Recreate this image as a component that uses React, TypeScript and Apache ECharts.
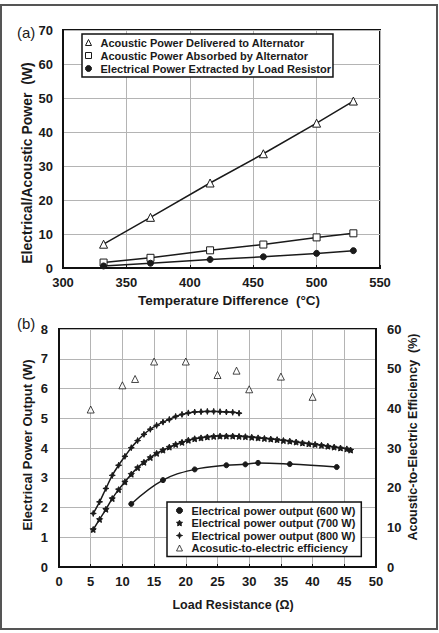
import React, { useEffect, useRef } from "react";
import * as echarts from "echarts";

// Panel (a): power versus temperature difference
const tempDiff = [332, 369, 416, 458, 500, 529];
const acousticDelivered = [7.0, 14.9, 25.0, 33.6, 42.6, 49.1];
const acousticAbsorbed = [1.6, 3.0, 5.2, 6.9, 9.0, 10.2];
const electricalExtracted = [0.6, 1.4, 2.5, 3.3, 4.3, 5.1];

// Panel (b): power output versus load resistance
const load600 = [11.4, 16.4, 21.4, 26.4, 29.4, 31.4, 36.4, 43.8];
const power600 = [2.12, 2.92, 3.28, 3.42, 3.45, 3.5, 3.46, 3.36];

const load700 = [
  5.4, 6.4, 7.4, 8.4, 9.4, 10.4, 11.4, 12.4, 13.4, 14.4, 15.4, 16.4, 17.4, 18.4,
  19.4, 20.4, 21.4, 22.4, 23.4, 24.4, 25.4, 26.4, 27.4, 28.4, 29.4, 30.4, 31.4,
  32.4, 33.4, 34.4, 35.4, 36.4, 37.4, 38.4, 39.4, 40.4, 41.4, 42.4, 43.4, 44.4,
  45.4, 46.0,
];
const power700 = [
  1.26, 1.6, 1.94, 2.3, 2.6, 2.86, 3.12, 3.34, 3.52, 3.68, 3.82, 3.93, 4.03, 4.12,
  4.19, 4.26, 4.31, 4.34, 4.37, 4.39, 4.4, 4.4, 4.4, 4.39, 4.38, 4.36, 4.34, 4.32,
  4.3, 4.28, 4.25, 4.23, 4.2, 4.17, 4.14, 4.12, 4.09, 4.06, 4.03, 4.0, 3.97, 3.93,
];

const load800 = [
  5.4, 6.4, 7.4, 8.4, 9.4, 10.4, 11.4, 12.4, 13.4, 14.4, 15.4, 16.4, 17.4, 18.4,
  19.4, 20.4, 21.4, 22.4, 23.4, 24.4, 25.4, 26.4, 27.4, 28.4,
];
const power800 = [
  1.8, 2.19, 2.64, 3.08, 3.42, 3.72, 4.01, 4.25, 4.46, 4.63, 4.76, 4.87, 4.96, 5.06,
  5.13, 5.18, 5.21, 5.22, 5.23, 5.23, 5.22, 5.21, 5.2, 5.17,
];

const loadEff = [5, 10, 12, 15, 20, 25, 28, 30, 35, 40];
const efficiency = [39.7, 45.8, 47.4, 51.8, 51.8, 48.4, 49.5, 44.8, 48.0, 42.9];

const FONT = "'Liberation Sans', Arial, sans-serif";
const INK = "#1a1a1a";
const GRID = "#b4b4b4";

const STAR5 =
  "path://M0,-10L2.9,-4L9.5,-3.1L4.8,1.5L5.9,8.1L0,5L-5.9,8.1L-4.8,1.5L-9.5,-3.1L-2.9,-4Z";
const STAR4 = "path://M0,-10L2.5,-2.5L10,0L2.5,2.5L0,10L-2.5,2.5L-10,0L-2.5,-2.5Z";

const pairs = (xs: number[], ys: number[]) => xs.map((x, i) => [x, ys[i]]);

const tickLabel = { color: INK, fontFamily: FONT, fontWeight: "bold" as const, fontSize: 13 };

function buildOption() {
  const hollow = { color: "#fff", borderColor: INK, borderWidth: 1 };
  const solid = { color: INK, borderColor: INK, borderWidth: 1 };
  const lineStyle = { color: INK, width: 1.5 };
  const axisLine = { show: true, lineStyle: { color: "#111", width: 2 } };
  const split = { show: true, lineStyle: { color: GRID, width: 1 } };

  return {
    animation: false,
    backgroundColor: "#fff",
    grid: [
      { left: 63, top: 30, width: 317, height: 238, show: true, borderColor: "#111", borderWidth: 2, backgroundColor: "transparent" },
      { left: 59, top: 329, width: 317, height: 238, show: true, borderColor: "#111", borderWidth: 2, backgroundColor: "transparent" },
    ],
    xAxis: [
      {
        gridIndex: 0, type: "value", min: 300, max: 550, interval: 50, axisLine,
        axisTick: { show: true, inside: true, length: 3, lineStyle: { color: "#111" } },
        axisLabel: { ...tickLabel, margin: 8 },
        splitLine: split,
      },
      {
        gridIndex: 1, type: "value", min: 0, max: 50, interval: 5, axisLine,
        axisTick: { show: true, inside: true, length: 3, lineStyle: { color: "#111" } },
        axisLabel: { ...tickLabel, margin: 8 },
        splitLine: split,
      },
    ],
    yAxis: [
      {
        gridIndex: 0, type: "value", min: 0, max: 70, interval: 10, axisLine,
        axisTick: { show: false },
        axisLabel: { ...tickLabel, margin: 10 },
        splitLine: split,
      },
      {
        gridIndex: 1, type: "value", min: 0, max: 8, interval: 1, axisLine,
        axisTick: { show: false },
        axisLabel: { ...tickLabel, margin: 11 },
        splitLine: split,
      },
      {
        gridIndex: 1, type: "value", position: "right", min: 0, max: 60, interval: 10, axisLine,
        axisTick: { show: false },
        axisLabel: { ...tickLabel, margin: 11 },
        splitLine: { show: false },
      },
    ],
    legend: [
      {
        orient: "vertical", left: 82, top: 34, padding: [3, 2, 3, 3], itemGap: 2,
        itemWidth: 6, itemHeight: 6,
        backgroundColor: "#fff", borderColor: "#111", borderWidth: 1.5,
        textStyle: { color: INK, fontFamily: FONT, fontWeight: "bold", fontSize: 11, padding: [0, 0, 0, 4] },
        data: [
          { name: "Acoustic Power Delivered to Alternator", icon: "triangle", itemStyle: hollow },
          { name: "Acoustic Power Absorbed by Alternator", icon: "rect", itemStyle: hollow },
          { name: "Electrical Power Extracted by Load Resistor", icon: "circle", itemStyle: solid },
        ],
      },
      {
        orient: "vertical", left: 167, top: 502, padding: [3, 6, 3, 9], itemGap: 1.5,
        itemWidth: 6, itemHeight: 6,
        backgroundColor: "#fff", borderColor: "#111", borderWidth: 1.5,
        textStyle: { color: INK, fontFamily: FONT, fontWeight: "bold", fontSize: 11, padding: [0, 0, 0, 4] },
        data: [
          { name: "Electrical power output (600 W)", icon: "circle", itemStyle: solid },
          { name: "Electrical power output (700 W)", icon: STAR5, itemStyle: solid },
          { name: "Electrical power output (800 W)", icon: STAR4, itemStyle: solid },
          { name: "Acosutic-to-electric efficiency", icon: "triangle", itemStyle: hollow },
        ],
      },
    ],
    series: [
      {
        name: "Acoustic Power Delivered to Alternator", type: "line", xAxisIndex: 0, yAxisIndex: 0,
        data: pairs(tempDiff, acousticDelivered), symbol: "triangle", symbolSize: 8,
        itemStyle: hollow, lineStyle,
      },
      {
        name: "Acoustic Power Absorbed by Alternator", type: "line", xAxisIndex: 0, yAxisIndex: 0,
        data: pairs(tempDiff, acousticAbsorbed), symbol: "rect", symbolSize: 7,
        itemStyle: hollow, lineStyle,
      },
      {
        name: "Electrical Power Extracted by Load Resistor", type: "line", xAxisIndex: 0, yAxisIndex: 0,
        data: pairs(tempDiff, electricalExtracted), symbol: "circle", symbolSize: 6,
        itemStyle: solid, lineStyle,
      },
      {
        name: "Electrical power output (600 W)", type: "line", xAxisIndex: 1, yAxisIndex: 1,
        data: pairs(load600, power600), smooth: 0.4, symbol: "circle", symbolSize: 5,
        itemStyle: solid, lineStyle,
      },
      {
        name: "Electrical power output (700 W)", type: "line", xAxisIndex: 1, yAxisIndex: 1,
        data: pairs(load700, power700), smooth: 0.4, symbol: STAR5, symbolSize: 6,
        itemStyle: solid, lineStyle,
      },
      {
        name: "Electrical power output (800 W)", type: "line", xAxisIndex: 1, yAxisIndex: 1,
        data: pairs(load800, power800), smooth: 0.4, symbol: STAR4, symbolSize: 6,
        itemStyle: solid, lineStyle,
      },
      {
        name: "Acosutic-to-electric efficiency", type: "scatter", xAxisIndex: 1, yAxisIndex: 2,
        data: pairs(loadEff, efficiency), symbol: "triangle", symbolSize: 7,
        itemStyle: hollow,
      },
    ],
    graphic: [
      // outer frame around both panels
      { type: "rect", shape: { x: 1, y: 5, width: 436, height: 624 }, style: { fill: "none", stroke: "#555", lineWidth: 2 }, z: 100 },
      { type: "text", x: 17, y: 32, style: { text: "(a)", font: `15px ${FONT}`, fill: INK, textVerticalAlign: "middle" } },
      { type: "text", x: 17, y: 323, style: { text: "(b)", font: `15px ${FONT}`, fill: INK, textVerticalAlign: "middle" } },
      {
        type: "text", x: 27, y: 163, rotation: Math.PI / 2,
        style: { text: "Electrical/Acoustic Power  (W)", font: `bold 14px ${FONT}`, fill: INK, textAlign: "center", textVerticalAlign: "middle" },
      },
      {
        type: "text", x: 229, y: 300,
        style: { text: "Temperature Difference  (\u00B0C)", font: `bold 13.5px ${FONT}`, fill: INK, textAlign: "center", textVerticalAlign: "middle" },
      },
      {
        type: "text", x: 27, y: 445, rotation: Math.PI / 2,
        style: { text: "Electrical Power Output (W)", font: `bold 13px ${FONT}`, fill: INK, textAlign: "center", textVerticalAlign: "middle" },
      },
      {
        type: "text", x: 413, y: 437, rotation: Math.PI / 2,
        style: { text: "Acoustic-to-Electric Efficiency  (%)", font: `bold 12.5px ${FONT}`, fill: INK, textAlign: "center", textVerticalAlign: "middle" },
      },
      {
        type: "text", x: 233, y: 605,
        style: { text: "Load Resistance (\u03A9)", font: `bold 12.5px ${FONT}`, fill: INK, textAlign: "center", textVerticalAlign: "middle" },
      },
    ],
  };
}

export default function App() {
  const ref = useRef<HTMLDivElement>(null);

  useEffect(() => {
    document.body.style.margin = "0";
    if (!ref.current) return;
    const chart = echarts.init(ref.current, undefined, { renderer: "svg" });
    chart.setOption(buildOption() as any);
    return () => chart.dispose();
  }, []);

  return <div ref={ref} style={{ width: 439, height: 633, background: "#fff" }} />;
}
